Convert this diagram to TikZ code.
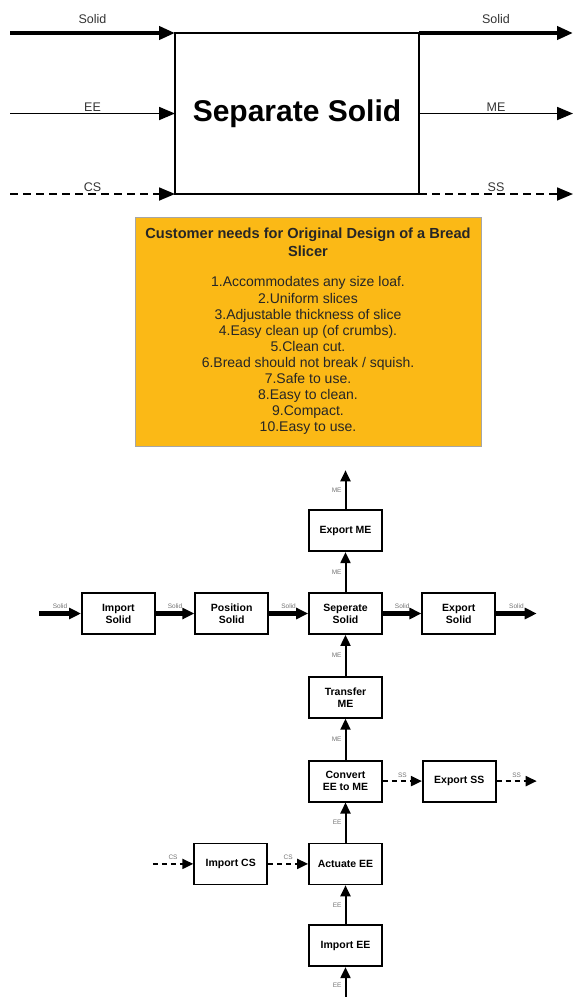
\documentclass[tikz,border=0pt]{standalone}
\usepackage{fontspec}
\setmainfont{Liberation Sans}
\usepackage{xcolor}
\usepackage{tikz}
\usetikzlibrary{positioning,arrows.meta}
\definecolor{needsyellow}{RGB}{251,185,22}

\begin{document}
\begin{tikzpicture}[x=1pt,y=-1pt,
    func/.style={rectangle,draw,line width=1.8pt,minimum width=73pt,minimum height=41pt,
      align=center,inner sep=1pt,font=\bfseries\fontsize{10.5}{12}\selectfont},
    tag/.style={font=\fontsize{6.5}{7}\selectfont,text=black!55,inner sep=1pt},
    toptag/.style={font=\fontsize{12.5}{14}\selectfont,text=black!80,inner sep=1pt},
    matflow/.style={line width=4.2pt,-{Triangle[length=12pt,width=11pt]}},
    nrgflow/.style={line width=2pt,-{Triangle[length=11pt,width=10pt]}},
    sigflow/.style={line width=2pt,dash pattern=on 5pt off 4pt,-{Triangle[length=11pt,width=10pt]}},
    bigmat/.style={line width=4.5pt,-{Triangle[length=16pt,width=13pt]}},
    bignrg/.style={line width=1.8pt,-{Triangle[length=16pt,width=13pt]}},
    bigsig/.style={line width=1.8pt,dash pattern=on 8pt off 5pt,-{Triangle[length=16pt,width=13pt]}}]
    \useasboundingbox (0,0) rectangle (575,997);

    % black box function
    \node [draw,line width=1.8pt,outer sep=0pt,minimum width=244pt,minimum height=161pt,
      font=\bfseries\fontsize{30}{36}\selectfont] (sepbox) at (297,113.5) {Separate Solid};
    \coordinate (solidin) at (10,33);
    \coordinate (eein) at (10,113.5);
    \coordinate (csin) at (10,194);
    \coordinate (solidout) at (573,33);
    \coordinate (meout) at (573,113.5);
    \coordinate (ssout) at (573,194);
    \draw [bigmat] (solidin) -- node [toptag,above=6pt] {Solid} (sepbox.north west);
    \draw [bignrg] (eein) -- node [toptag,above=0pt] {EE} (sepbox.west);
    \draw [bigsig] (csin) -- node [toptag,above=0pt] {CS} (sepbox.south west);
    \draw [bigmat] (sepbox.north east) -- node [toptag,above=6pt] {Solid} (solidout);
    \draw [bignrg] (sepbox.east) -- node [toptag,above=0pt] {ME} (meout);
    \draw [bigsig] (sepbox.south east) -- node [toptag,above=0pt] {SS} (ssout);

    % customer needs
    \node [draw=black!35,fill=needsyellow,minimum width=346pt,minimum height=229pt,
      align=center,text=black!85,font=\fontsize{14}{16.1}\selectfont] (needs) at (308,331.5)
      {{\bfseries\fontsize{14.6}{16}\selectfont Customer needs for Original Design of a Bread}\\[2pt]
       {\bfseries\fontsize{14.6}{16}\selectfont Slicer}\\[14pt]
       1.Accommodates any size loaf.\\
       2.Uniform slices\\
       3.Adjustable thickness of slice\\
       4.Easy clean up (of crumbs).\\
       5.Clean cut.\\
       6.Bread should not break / squish.\\
       7.Safe to use.\\
       8.Easy to clean.\\
       9.Compact.\\
       10.Easy to use.};

    % function structure
    \node [func] (seps) at (345.5,613.5) {Seperate\\Solid};
    \node [func,left=39pt of seps] (poss) {Position\\Solid};
    \node [func,left=38.5pt of poss] (imps) {Import\\Solid};
    \node [func,right=38.5pt of seps] (exps) {Export\\Solid};
    \node [func,above=40pt of seps] (expme) {Export ME};
    \node [func,below=41pt of seps] (trme) {Transfer\\ME};
    \node [func,below=41pt of trme] (conv) {Convert\\EE to ME};
    \node [func,right=39pt of conv] (expss) {Export SS};
    \node [func,below=40pt of conv] (acte) {Actuate EE};
    \node [func,left=40pt of acte] (impcs) {Import CS};
    \node [func,below=39pt of acte] (impee) {Import EE};
    \coordinate [left=42pt of imps] (sin);
    \coordinate [right=40.5pt of exps] (sout);
    \coordinate [above=39pt of expme] (mout);
    \coordinate [right=40pt of expss] (sso);
    \coordinate [left=40.5pt of impcs] (csi);
    \coordinate [below=37pt of impee] (eei);

    \draw [matflow] (sin) -- node [tag,above=2pt] {Solid} (imps);
    \draw [matflow] (imps) -- node [tag,above=2pt] {Solid} (poss);
    \draw [matflow] (poss) -- node [tag,above=2pt] {Solid} (seps);
    \draw [matflow] (seps) -- node [tag,above=2pt] {Solid} (exps);
    \draw [matflow] (exps) -- node [tag,above=2pt] {Solid} (sout);
    \draw [nrgflow] (seps) -- node [tag,left=2pt] {ME} (expme);
    \draw [nrgflow] (expme) -- node [tag,left=2pt] {ME} (mout);
    \draw [nrgflow] (trme) -- node [tag,left=2pt] {ME} (seps);
    \draw [nrgflow] (conv) -- node [tag,left=2pt] {ME} (trme);
    \draw [nrgflow] (acte) -- node [tag,left=2pt] {EE} (conv);
    \draw [nrgflow] (impee) -- node [tag,left=2pt] {EE} (acte);
    \draw [nrgflow] (eei) -- node [tag,left=2pt] {EE} (impee);
    \draw [sigflow] (conv) -- node [tag,above=2pt] {SS} (expss);
    \draw [sigflow] (expss) -- node [tag,above=2pt] {SS} (sso);
    \draw [sigflow] (csi) -- node [tag,above=2pt] {CS} (impcs);
    \draw [sigflow] (impcs) -- node [tag,above=2pt] {CS} (acte);
\end{tikzpicture}
\end{document}
